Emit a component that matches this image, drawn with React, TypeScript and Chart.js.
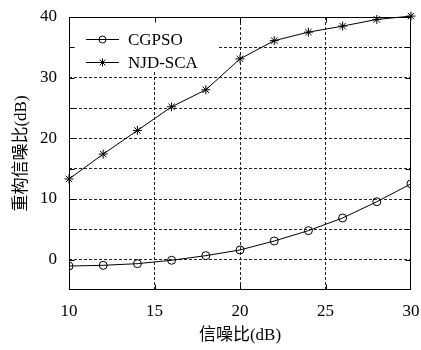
import React, { useEffect, useRef } from "react";
import { Chart, registerables } from "chart.js";

Chart.register(...registerables);

const snr = [10, 12, 14, 16, 18, 20, 22, 24, 26, 28, 30];
const cgpso = [-1.05, -0.93, -0.66, -0.1, 0.66, 1.6, 3.08, 4.78, 6.87, 9.55, 12.5];
const njdsca = [13.3, 17.4, 21.3, 25.2, 28.0, 33.1, 36.1, 37.5, 38.5, 39.6, 40.15];
const seriesNames = ["CGPSO", "NJD-SCA"];
const xTitle = "信噪比(dB)";
const yTitle = "重构信噪比(dB)";

const FONT = '"Liberation Serif", "Noto Sans CJK SC", serif';

const framePlugin = {
  id: "frame",
  beforeDatasetsDraw(chart: any) {
    const { ctx, chartArea } = chart;
    const { left, right, top, bottom } = chartArea;
    const xs = chart.scales.x;
    const ys = chart.scales.y;
    ctx.save();
    ctx.fillStyle = "#fff";
    ctx.fillRect(left + 1, top + 1, 148, 52);
    ctx.strokeStyle = "#000";
    ctx.lineWidth = 1;
    const L = Math.round(left) + 0.5;
    const R = Math.round(right) - 0.5;
    const T = Math.round(top) + 0.5;
    const B = Math.round(bottom) - 0.5;
    ctx.strokeRect(L, T, R - L, B - T);
    const tl = 5;
    ctx.beginPath();
    xs.ticks.forEach((t: any) => {
      const v = t.value;
      if (v === xs.min || v === xs.max) return;
      const px = Math.round(xs.getPixelForValue(v)) + 0.5;
      ctx.moveTo(px, B);
      ctx.lineTo(px, B - tl);
      ctx.moveTo(px, T);
      ctx.lineTo(px, T + tl);
    });
    ys.ticks.forEach((t: any) => {
      const v = t.value;
      if (v === ys.min || v === ys.max) return;
      const py = Math.round(ys.getPixelForValue(v)) + 0.5;
      ctx.moveTo(L, py);
      ctx.lineTo(L + tl, py);
      ctx.moveTo(R, py);
      ctx.lineTo(R - tl, py);
    });
    ctx.stroke();
    ctx.restore();
  },
  afterDatasetsDraw(chart: any) {
    const { ctx, chartArea } = chart;
    const { left, top } = chartArea;
    ctx.save();
    ctx.strokeStyle = "#000";
    ctx.fillStyle = "#000";
    ctx.lineWidth = 1;
    ctx.font = `17px ${FONT}`;
    ctx.textBaseline = "middle";
    ctx.textAlign = "left";
    const rows = [top + 22, top + 44.5];
    chart.data.datasets.forEach((ds: any, i: number) => {
      const y = Math.round(rows[i]) + 0.5;
      const x0 = left + 17;
      const x1 = left + 50;
      const xm = (x0 + x1) / 2;
      ctx.beginPath();
      ctx.moveTo(x0, y);
      ctx.lineTo(x1, y);
      ctx.stroke();
      ctx.beginPath();
      if (ds.pointStyle === "circle") {
        ctx.arc(xm, y, 3.5, 0, Math.PI * 2);
      } else {
        const r = 4;
        ctx.moveTo(xm - r, y);
        ctx.lineTo(xm + r, y);
        ctx.moveTo(xm, y - r);
        ctx.lineTo(xm, y + r);
        const d = r * 0.7071;
        ctx.moveTo(xm - d, y - d);
        ctx.lineTo(xm + d, y + d);
        ctx.moveTo(xm - d, y + d);
        ctx.lineTo(xm + d, y - d);
      }
      ctx.stroke();
      ctx.fillText(ds.label, left + 59, y + 1);
    });
    ctx.restore();
  },
};

export default function App() {
  const ref = useRef<HTMLCanvasElement | null>(null);
  useEffect(() => {
    if (!ref.current) return;
    const chart = new Chart(ref.current, {
      type: "line",
      data: {
        datasets: [
          {
            label: seriesNames[0],
            data: snr.map((x, i) => ({ x, y: cgpso[i] })),
            borderColor: "#000",
            borderWidth: 1,
            pointStyle: "circle",
            pointRadius: 4,
            pointBorderColor: "#000",
            pointBackgroundColor: "rgba(0,0,0,0)",
            pointBorderWidth: 1,
            tension: 0,
          },
          {
            label: seriesNames[1],
            data: snr.map((x, i) => ({ x, y: njdsca[i] })),
            borderColor: "#000",
            borderWidth: 1,
            pointStyle: "star",
            pointRadius: 4.5,
            pointBorderColor: "#000",
            pointBackgroundColor: "#000",
            pointBorderWidth: 1,
            tension: 0,
            clip: false as any,
          },
        ],
      },
      options: {
        responsive: false,
        animation: false,
        devicePixelRatio: 1,
        layout: { padding: { left: 0, right: 10, top: 17, bottom: 0 } },
        plugins: {
          legend: { display: false },
          tooltip: { enabled: false },
        },
        scales: {
          x: {
            type: "linear",
            min: 10,
            max: 30,
            afterFit: (s: any) => {
              s.height = 60;
              s.paddingLeft = 0;
              s.paddingRight = 0;
            },
            ticks: {
              stepSize: 5,
              padding: 11,
              color: "#000",
              font: { family: FONT, size: 17 },
              maxRotation: 0,
            },
            grid: {
              drawTicks: false,
              lineWidth: 1,
              color: (c: any) =>
                c.tick && (c.tick.value === 10 || c.tick.value === 30) ? "rgba(0,0,0,0)" : "#222",
            },
            border: { display: false, dash: [3, 2] },
            title: {
              display: true,
              text: xTitle,
              color: "#000",
              font: { family: FONT, size: 17 },
              padding: { top: 0, bottom: 4 },
            },
          },
          y: {
            type: "linear",
            min: -5,
            max: 40,
            afterFit: (s: any) => {
              s.width = 69;
              s.paddingTop = 0;
              s.paddingBottom = 0;
            },
            ticks: {
              stepSize: 5,
              padding: 12,
              color: "#000",
              font: { family: FONT, size: 17 },
              callback: (v: any) => (Number(v) % 10 === 0 ? String(v) : ""),
            },
            grid: {
              drawTicks: false,
              lineWidth: 1,
              color: (c: any) =>
                c.tick && (c.tick.value === -5 || c.tick.value === 40) ? "rgba(0,0,0,0)" : "#222",
            },
            border: { display: false, dash: [3, 2] },
            title: {
              display: true,
              text: yTitle,
              color: "#000",
              font: { family: FONT, size: 17 },
              padding: { top: 11, bottom: 0 },
            },
          },
        },
      },
      plugins: [framePlugin],
    });
    return () => chart.destroy();
  }, []);
  return (
    <div style={{ position: "absolute", left: 0, top: 0, width: 421, height: 350, background: "#fff" }}>
      <canvas ref={ref} width={421} height={350} style={{ width: 421, height: 350, display: "block" }} />
    </div>
  );
}
